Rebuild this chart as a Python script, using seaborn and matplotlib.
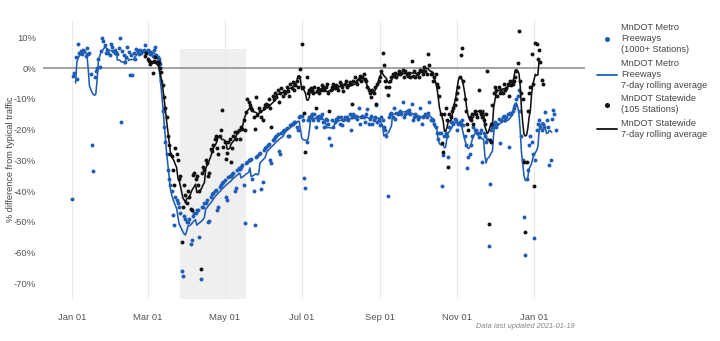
import matplotlib
matplotlib.use("Agg")
import matplotlib.pyplot as plt
import pandas as pd
import seaborn as sns
from matplotlib.lines import Line2D

# ---------------- data (daily % difference from typical traffic) ----------------
metro_start = "2020-01-01"
metro_pct = [
    -42.6, -2.5, -1.5, 3.7, -3.5, 7.8, 5.0, 5.5, 4.5, 6.0,
    5.5, 4.0, 6.5, 4.5, 5.0, -2.0, -25.1, -33.5, -3.0, -1.0,
    0.0, 3.0, 0.4, 5.5, 10.0, 8.8, 7.7, 4.8, 6.0, 5.0,
    4.2, 7.8, 6.9, 5.5, 5.0, 5.3, 4.5, 6.5, 9.7, -17.5,
    5.5, 4.2, 2.1, 3.5, 6.9, 5.3, -2.3, 4.2, -2.3, 5.0,
    3.1, 6.4, 5.8, 4.5, 6.0, 5.0, 5.5, 6.0, 7.5, 5.0,
    6.0, 5.5, 4.5, 5.0, 4.0, 6.0, 6.9, 4.2, 3.5, 3.1,
    1.5, -4.0, -14.0, -19.0, -24.0, -28.0, -33.0, -36.0, -38.0, -40.0,
    -47.7, -51.0, -42.0, -43.0, -44.0, -45.0, -47.0, -66.1, -67.7, -48.0,
    -49.0, -50.0, -50.0, -49.0, -57.1, -56.0, -48.0, -47.0, -47.0, -46.0,
    -46.0, -55.0, -68.5, -45.0, -45.0, -44.0, -44.0, -43.0, -50.0, -49.8,
    -42.0, -41.0, -40.5, -40.0, -39.5, -46.0, -45.0, -38.5, -38.0, -37.5,
    -37.0, -36.5, -42.0, -43.0, -35.5, -35.0, -35.0, -34.5, -34.0, -40.0,
    -39.0, -33.0, -32.5, -32.7, -32.0, -31.5, -38.0, -50.3, -31.0, -30.5,
    -30.0, -30.0, -29.5, -36.0, -40.0, -51.0, -29.0, -28.5, -28.0, -27.5,
    -39.2, -37.0, -26.5, -26.0, -25.5, -25.0, -24.5, -30.0, -31.0, -23.5,
    -23.0, -22.5, -22.0, -21.5, -27.0, -28.0, -21.0, -20.5, -20.0, -20.0,
    -19.5, -22.0, -22.0, -18.5, -18.0, -18.0, -17.5, -17.5, -19.0, -20.0,
    -16.0, -15.5, -15.5, -17.0, -35.6, -38.9, -24.0, -17.0, -16.0, -15.5,
    -15.0, -17.0, -14.8, -19.0, -16.0, -17.0, -15.5, -16.0, -15.0, -17.5,
    -19.0, -16.5, -17.0, -18.0, -22.7, -25.0, -17.0, -19.0, -17.5, -16.5,
    -17.0, -16.0, -18.0, -16.0, -18.5, -17.0, -16.0, -16.5, -16.0, -17.0,
    -15.0, -20.0, -16.0, -15.0, -16.0, -15.5, -16.5, -13.0, -18.0, -16.0,
    -15.5, -16.0, -17.5, -15.0, -13.4, -18.0, -16.5, -15.5, -18.0, -17.0,
    -16.0, -11.9, -17.5, -17.0, -18.5, -16.0, -17.0, -19.0, -20.0, -22.0,
    -41.6, -16.0, -15.0, -14.5, -16.0, -13.0, -16.5, -14.5, -15.0, -14.5,
    -14.0, -15.0, -11.0, -16.0, -15.0, -14.0, -14.5, -13.5, -15.0, -11.5,
    -17.0, -16.0, -15.0, -15.5, -16.5, -16.0, -13.0, -18.0, -16.0, -15.5,
    -15.0, -16.0, -14.5, -11.0, -17.0, -16.5, -17.0, -18.0, -19.0, -21.0,
    -23.0, -21.0, -21.0, -38.3, -28.3, -22.0, -21.0, -22.0, -28.9, -19.0,
    -17.5, -17.5, -18.0, -16.5, -17.0, -20.0, -18.0, -17.5, -18.0, -17.0,
    -18.5, -22.0, -25.0, -32.5, -28.9, -27.8, -25.0, -22.0, -19.0, -20.0,
    -20.0, -21.0, -22.5, -21.0, -20.0, -30.5, -21.0, -22.0, -24.0, -23.0,
    -57.7, -37.8, -20.0, -19.0, -18.0, -17.5, -19.0, -18.0, -16.5, -24.2,
    -17.0, -16.0, -15.5, -17.0, -16.0, -15.0, -25.6, -14.5, -15.0, -14.0,
    -13.0, -12.0, -10.0, -9.0, -7.2, -14.0, -22.0, -30.0, -48.4, -60.9,
    -36.2, -33.0, -25.0, -22.0, -24.0, -28.0, -55.3, -30.0, -20.0, -18.0,
    -17.0, -19.0, -20.0, -18.0, -19.0, -14.2, -17.0, -19.0, -31.6, -30.0,
    -16.4, -13.7, -15.0, -20.2,
]

statewide_start = "2020-02-28"
statewide_pct = [
    4.0, 5.0,
    3.0, 2.5, 1.5, 2.0, -1.4, 2.5, 3.5, 2.0, 1.5, 2.0,
    0.0, -1.2, -5.6, -9.4, -13.1, -16.0, -22.0, -25.0, -28.0, -28.4,
    -33.0, -38.0, -26.0, -28.0, -30.0, -36.0, -35.0, -56.6, -45.0, -38.0,
    -41.4, -44.0, -40.0, -42.0, -45.7, -46.0, -34.9, -34.0, -36.0, -35.0,
    -38.0, -40.0, -65.3, -34.0, -32.0, -33.0, -30.0, -31.0, -35.0, -34.0,
    -26.2, -27.0, -25.0, -23.0, -22.0, -26.0, -28.0, -22.0, -20.0, -13.7,
    -25.6, -24.0, -29.4, -27.5, -24.0, -22.9, -30.5, -26.0, -22.0, -20.7,
    -23.0, -20.7, -20.0, -22.9, -19.0, -19.7, -17.0, -20.0, -14.2, -9.9,
    -11.0, -12.0, -13.0, -13.7, -16.0, -19.7, -9.4, -15.3, -13.0, -14.0,
    -16.0, -17.0, -13.0, -12.0, -11.5, -12.0, -10.0, -13.0, -19.1, -9.0,
    -10.0, -8.0, -9.5, -7.0, -11.0, -8.0, -6.5, -9.0, -7.5, -8.0,
    -6.0, -7.5, -9.0, -5.0, -6.5, -4.5, -7.0, -5.5, -4.0, -6.0,
    -3.0, -0.4, 8.0, -6.0, -14.6, -27.1, -2.8, -8.0, -7.0, -6.5,
    -7.0, -8.0, -6.0, -13.1, -7.5, -6.5, -8.0, -7.0, -5.5, -6.0,
    -7.0, -6.0, -5.0, -8.0, -14.0, -7.0, -6.0, -5.0, -6.5, -5.5,
    -6.0, -7.0, -4.5, -5.0, -6.0, -7.5, -5.0, -4.0, -6.0, -5.5,
    -4.5, -5.0, -11.5, -4.0, -3.0, -4.5, -5.0, -3.5, -2.5, -4.0,
    -3.0, -2.0, -3.5, -4.0, -6.0, -7.0, -8.0, -9.4, -7.0, -8.0,
    -6.0, -11.5, -5.0, -4.0, -3.0, -1.0, 4.8, 1.2, -4.0, -6.0,
    -8.8, -6.0, -4.0, -3.0, -2.0, -2.5, -1.5, -3.0, -2.0, -1.0,
    -2.0, -1.5, -0.5, -3.0, -1.0, -2.0, -2.5, -1.5, -3.0, 2.3,
    -2.5, -1.0, -3.0, -2.0, -1.5, -3.0, -0.5, -1.0, -2.0, 0.5,
    -1.0, -2.0, 4.5, 1.0, -2.0, -1.5, -4.0, -3.0, -2.0, -5.0,
    -6.0, -9.0, -15.0, -24.2, -27.2, -15.0, -13.0, -17.0, -32.0, -15.0,
    -16.0, -14.0, -13.0, -12.0, -10.0, -8.0, -6.0, -3.0, 4.2, 6.6,
    -4.0, -10.0, -14.0, -18.0, -20.0, -16.0, -17.0, -15.0, -18.0, -14.0,
    -15.0, -16.0, -7.2, -14.0, -15.0, -16.0, -17.0, -18.0, -15.0, -1.0,
    -50.8, -23.3, -24.0, -12.0, -8.0, -6.0, -7.0, -9.0, -6.0, -8.0,
    -7.0, -8.0, -5.0, -7.0, -6.5, -5.0, -9.0, -4.0, -5.5, -5.0,
    -4.0, -3.0, -1.0, 1.8, 12.0, -4.0, -8.0, -10.0, -30.5, -53.3,
    -30.6, -14.0, -8.0, -6.0, 4.5, -5.0, -38.4, 8.3, 7.8, 3.0,
    6.0, 2.0, -3.9, -5.0,
]

series_names = [
    "MnDOT Metro\nFreeways\n(1000+ Stations)",
    "MnDOT Metro\nFreeways\n7-day rolling average",
    "MnDOT Statewide\n(105 Stations)",
    "MnDOT Statewide\n7-day rolling average",
]
x_tick_dates = ["2020-01-01", "2020-03-01", "2020-05-01", "2020-07-01",
                "2020-09-01", "2020-11-01", "2021-01-01"]
x_tick_labels = ["Jan 01", "Mar 01", "May 01", "Jul 01", "Sep 01", "Nov 01", "Jan 01"]
y_ticks = [10, 0, -10, -20, -30, -40, -50, -60, -70]
stay_home = ("2020-03-27", "2020-05-18")
y_label = "% difference from typical traffic"
footnote = "Data last updated 2021-01-19"

BLUE = "#1f5db5"
BLACK = "#111111"

# ---------------- frames ----------------
metro = pd.DataFrame({"date": pd.date_range(metro_start, periods=len(metro_pct)),
                      "pct": metro_pct})
metro["avg"] = metro["pct"].rolling(7, center=True).mean()
state = pd.DataFrame({"date": pd.date_range(statewide_start, periods=len(statewide_pct)),
                      "pct": statewide_pct})
state["avg"] = state["pct"].rolling(7, center=True).mean()

# ---------------- figure ----------------
sns.set_theme(style="white")
plt.rcParams["font.family"] = ["Liberation Sans", "DejaVu Sans"]

W, H = 720, 341
fig = plt.figure(figsize=(W / 100, H / 100), dpi=100)
ax = fig.add_axes([43 / W, 1 - 299 / H, (585 - 43) / W, (299 - 20) / H])

ax.fill_between(pd.to_datetime(list(stay_home)), -75.1, 6.2, color="#efefef",
                linewidth=0, zorder=0)
ax.axhline(0, color="#8a8a8a", lw=1.1, zorder=1)

sns.scatterplot(data=metro, x="date", y="pct", color=BLUE, s=8, linewidth=0,
                ax=ax, zorder=3, legend=False)
sns.lineplot(data=metro.dropna(), x="date", y="avg", color=BLUE, lw=1.15,
             ax=ax, zorder=4, legend=False)
sns.scatterplot(data=state, x="date", y="pct", color=BLACK, s=8, linewidth=0,
                ax=ax, zorder=5, legend=False)
sns.lineplot(data=state.dropna(), x="date", y="avg", color=BLACK, lw=1.15,
             ax=ax, zorder=6, legend=False)

ax.set_xlim(pd.Timestamp("2020-01-01") - pd.Timedelta(days=22.8),
            pd.Timestamp("2020-01-01") + pd.Timedelta(days=406.3))
ax.set_ylim(-75.1, 15.7)

ax.set_xticks(pd.to_datetime(x_tick_dates))
ax.set_xticklabels(x_tick_labels)
ax.set_yticks(y_ticks)
ax.set_yticklabels([f"{v}%" for v in y_ticks])
ax.tick_params(axis="both", length=0, labelsize=6.8, labelcolor="#555555")
ax.tick_params(axis="x", pad=10)
ax.tick_params(axis="y", pad=5)
ax.grid(axis="x", color="#ebebeb", lw=0.8)
ax.grid(axis="y", visible=False)
for s in ax.spines.values():
    s.set_visible(False)

ax.set_xlabel("")
ax.set_ylabel(y_label, fontsize=6.6, color="#444444")
ax.yaxis.set_label_coords(-0.052, 0.5)

handles = [
    Line2D([], [], ls="none", marker="o", ms=2.6, color=BLUE),
    Line2D([], [], color=BLUE, lw=1.3),
    Line2D([], [], ls="none", marker="o", ms=2.6, color=BLACK),
    Line2D([], [], color=BLACK, lw=1.3),
]
leg = fig.legend(handles, series_names, loc="upper left",
                 bbox_to_anchor=(597 / W, 1 - 23 / H), frameon=False,
                 fontsize=6.6, labelcolor="#444444", handlelength=2.2,
                 handletextpad=0.4, labelspacing=0.45, borderpad=0,
                 borderaxespad=0)
for t in leg.get_texts():
    t.set_linespacing(1.32)

fig.text(575 / W, 1 - 327 / H, footnote, ha="right", va="center", fontsize=5.4,
         style="italic", color="#888888")

fig.savefig("out.png", dpi=100)
